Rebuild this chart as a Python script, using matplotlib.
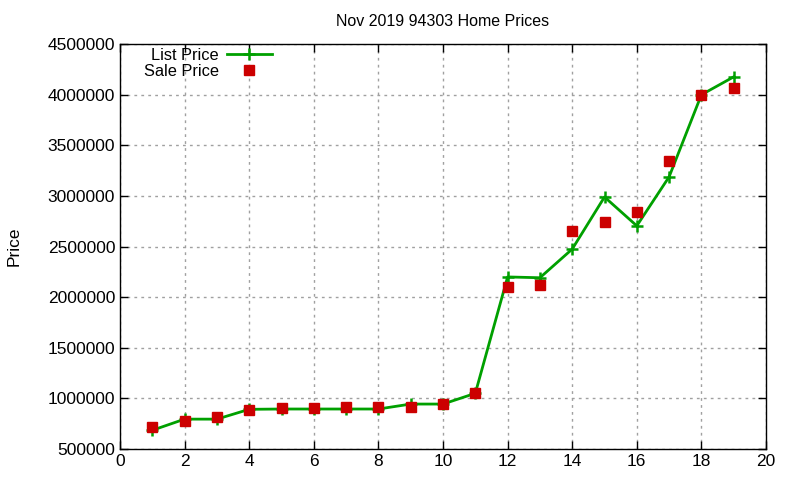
import matplotlib
matplotlib.use("Agg")
import matplotlib.pyplot as plt

# house index along x, list and sale prices
houses = list(range(1, 20))
list_price = [685000, 795000, 795000, 892000, 895000, 895000, 895000, 895000, 944000, 944000,
              1050000, 2200000, 2192000, 2475000, 2990000, 2705000, 3189000, 4000000, 4177000]
sale_price = [718000, 780000, 816000, 888000, 905000, 907000, 918000, 915000, 918000, 947000,
              1056000, 2103000, 2123000, 2656000, 2745000, 2844000, 3347000, 3996000, 4068000]

plt.rcParams['font.family'] = ['Liberation Sans', 'DejaVu Sans']

fig = plt.figure(figsize=(8, 4.8), dpi=100)
ax = fig.add_axes([0.15, 0.0646, 0.8075, 0.8434])

ax.plot(houses, list_price, color='#00a000', lw=2, marker='+', ms=9, mew=1.8,
        label='List Price')
ax.plot(houses, sale_price, ls='none', color='#cc0000', marker='s', ms=7,
        label='Sale Price')

ax.set_xlim(0, 20)
ax.set_ylim(500000, 4500000)
ax.set_xticks(range(0, 21, 2))
ax.set_yticks(range(500000, 4500001, 500000))
ax.ticklabel_format(style='plain', axis='y', useOffset=False)
ax.tick_params(direction='in', top=True, right=True, labelsize=12.5, length=6, width=1)
ax.grid(True, color='#a0a0a0', ls=(0, (2, 3)), lw=1)
for s in ax.spines.values():
    s.set_linewidth(1)

ax.set_title('Nov 2019 94303 Home Prices', fontsize=11.5, pad=13)
ax.set_ylabel('Price', fontsize=12.5)
ax.yaxis.set_label_coords(-0.152, 0.5)

ax.legend(loc='upper left', frameon=False, markerfirst=False, fontsize=11.8,
          bbox_to_anchor=(0.017, 1.023), handlelength=2.7, labelspacing=0.05,
          borderpad=0.3, handletextpad=0.5)

fig.savefig('out.png')
